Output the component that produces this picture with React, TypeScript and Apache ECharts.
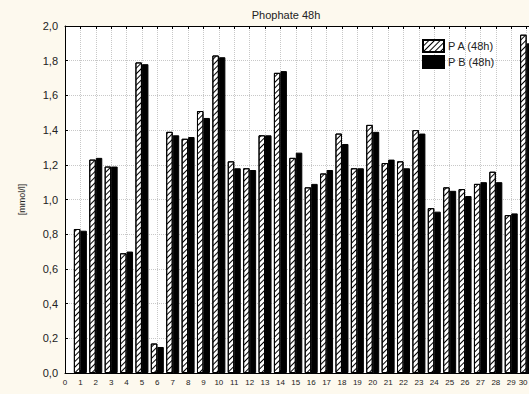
import React, { useEffect, useRef } from "react";
import * as echarts from "echarts";

const categories = [
  "0", "1", "2", "3", "4", "5", "6", "7", "8", "9", "10", "11", "12", "13", "14", "15",
  "16", "17", "18", "19", "20", "21", "22", "23", "24", "25", "26", "27", "28", "29", "30", "31",
];
const lastShownLabel = "30";

const paValues = [
  null, 0.83, 1.23, 1.19, 0.69, 1.79, 0.17, 1.39, 1.35, 1.51, 1.83, 1.22, 1.18, 1.37, 1.73, 1.24,
  1.07, 1.15, 1.38, 1.18, 1.43, 1.21, 1.22, 1.4, 0.95, 1.07, 1.06, 1.09, 1.16, 0.91, 1.95, null,
];

const pbValues = [
  null, 0.82, 1.24, 1.19, 0.7, 1.78, 0.15, 1.37, 1.36, 1.47, 1.82, 1.18, 1.17, 1.37, 1.74, 1.27,
  1.09, 1.17, 1.32, 1.18, 1.39, 1.23, 1.18, 1.38, 0.93, 1.05, 1.02, 1.1, 1.1, 0.92, 1.9, null,
];

const titleText = "Phophate 48h";
const yAxisName = "[mmol/l]";
const seriesNames = ["P A (48h)", "P B (48h)"];

const FONT = "Liberation Sans, Arial, sans-serif";

export default function App() {
  const ref = useRef<HTMLDivElement>(null);
  useEffect(() => {
    if (!ref.current) return;
    const chart = echarts.init(ref.current, undefined, { renderer: "svg" });
    const hatch = {
      symbol: "rect",
      symbolSize: 1,
      symbolKeepAspect: false,
      color: "#000",
      backgroundColor: "#fff",
      dashArrayX: [1, 0],
      dashArrayY: [1, 2.2],
      rotation: -Math.PI / 4,
    };
    const lastIdx = categories.indexOf(lastShownLabel);
    chart.setOption({
      animation: false,
      backgroundColor: "#fdf9ee",
      textStyle: { fontFamily: FONT },
      title: {
        text: titleText,
        left: 281,
        top: 4,
        textAlign: "center",
        textStyle: { fontSize: 11, fontWeight: "normal", color: "#222", fontFamily: FONT },
      },
      legend: {
        orient: "vertical",
        left: 422,
        top: 39,
        icon: "rect",
        itemWidth: 21,
        itemHeight: 12,
        itemGap: 2,
        padding: 0,
        textStyle: { fontSize: 11, color: "#222", fontFamily: FONT, padding: [0, 0, 0, -1] },
        data: seriesNames,
      },
      grid: {
        left: 65,
        top: 26,
        bottom: 21,
        width: 477,
        show: true,
        backgroundColor: "#fff",
        borderWidth: 0,
        containLabel: false,
        outerBoundsMode: "none",
      },
      xAxis: [
        {
          type: "category",
          data: categories,
          boundaryGap: false,
          position: "bottom",
          axisLine: { show: true, lineStyle: { color: "#000", width: 1 } },
          axisTick: { show: true, inside: true, length: 3, lineStyle: { color: "#000" } },
          axisLabel: {
            fontSize: 8,
            color: "#222",
            margin: 5,
            interval: (idx: number) => idx <= lastIdx,
            fontFamily: FONT,
            formatter: (v: string) => (v === lastShownLabel ? `{e|${v}}` : v),
            rich: { e: { fontSize: 8, color: "#222", fontFamily: FONT, padding: [0, 7, 0, 0] } },
          },
          splitLine: { show: true, interval: 0, lineStyle: { color: "#c8c8c8", type: "dotted", width: 1 } },
        },
        {
          type: "category",
          data: categories,
          boundaryGap: false,
          position: "top",
          axisLine: { show: true, lineStyle: { color: "#000", width: 1 } },
          axisTick: { show: true, inside: true, length: 3, interval: 0, lineStyle: { color: "#000" } },
          axisLabel: { show: false },
          splitLine: { show: false },
        },
      ],
      yAxis: {
        type: "value",
        min: 0,
        max: 2,
        interval: 0.2,
        name: yAxisName,
        nameLocation: "middle",
        nameGap: 39,
        nameRotate: 90,
        nameTextStyle: { fontSize: 9, color: "#222", fontFamily: FONT },
        axisLine: { show: true, lineStyle: { color: "#000", width: 1 } },
        axisTick: { show: true, inside: true, length: 3, lineStyle: { color: "#000" } },
        axisLabel: {
          fontSize: 11,
          color: "#222",
          margin: 7,
          fontFamily: FONT,
          formatter: (v: number) => v.toFixed(1).replace(".", ","),
        },
        splitLine: { show: true, lineStyle: { color: "#c8c8c8", type: "dotted", width: 1 } },
      },
      series: [
        {
          name: seriesNames[0],
          type: "bar",
          data: paValues,
          barWidth: 6.5,
          barGap: "0%",
          itemStyle: { color: "#fff", borderColor: "#000", borderWidth: 1, decal: hatch },
        },
        {
          name: seriesNames[1],
          type: "bar",
          data: pbValues,
          barWidth: 6.5,
          barGap: "0%",
          itemStyle: { color: "#000", borderColor: "#000", borderWidth: 1 },
        },
      ],
    });
    return () => chart.dispose();
  }, []);
  return (
    <div
      ref={ref}
      style={{ position: "absolute", left: 0, top: 0, width: 529, height: 394 }}
    />
  );
}
